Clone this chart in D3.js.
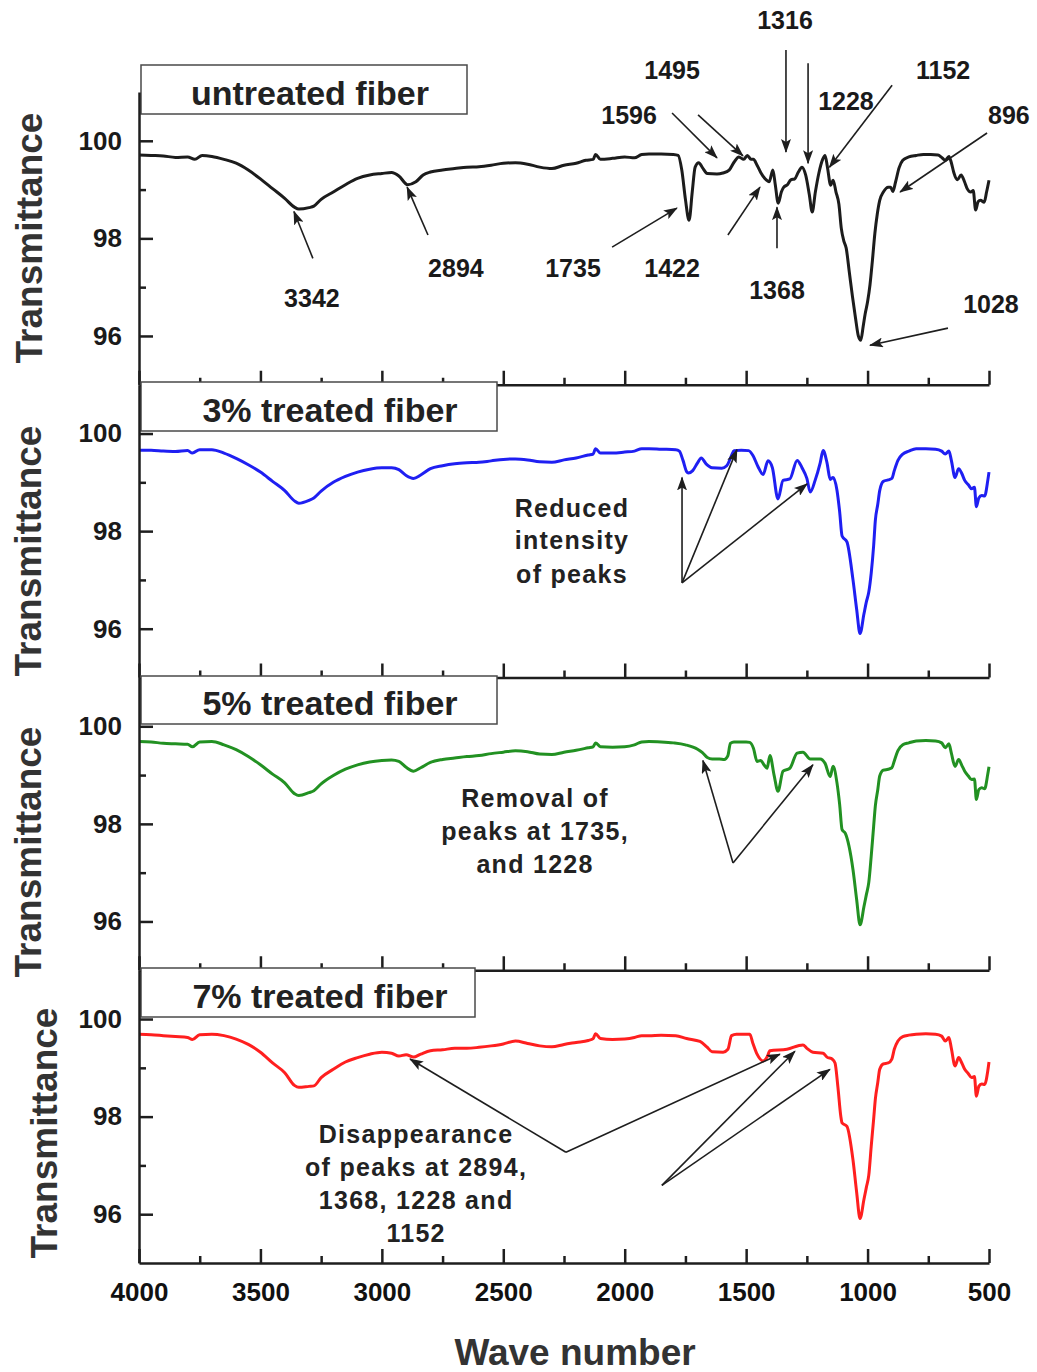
<!DOCTYPE html>
<html>
<head>
<meta charset="utf-8">
<script src="https://cdn.jsdelivr.net/npm/d3@7"></script>
<style>
  body { margin: 0; background: #fff; }
  svg { display: block; }
  text { font-family: "Liberation Sans", Arial, Helvetica, sans-serif; font-weight: bold; }
</style>
</head>
<body>
<svg id="chart" width="1037" height="1372"></svg>
<script>
// FTIR spectra: [wave number (cm-1), transmittance (%)]
const untreated = [
  [4000,99.71],[3950,99.70],[3900,99.69],[3850,99.66],[3800,99.67],[3770,99.62],[3740,99.70],[3700,99.68],
  [3650,99.62],[3600,99.54],[3550,99.40],[3500,99.22],[3450,99.02],[3400,98.82],[3360,98.64],[3342,98.60],
  [3300,98.63],[3280,98.66],[3250,98.80],[3200,98.95],[3150,99.10],[3100,99.23],[3050,99.30],[3000,99.33],
  [2960,99.35],[2930,99.28],[2894,99.10],[2860,99.16],[2830,99.30],[2800,99.36],[2750,99.40],[2700,99.43],
  [2650,99.46],[2600,99.47],[2550,99.50],[2500,99.54],[2450,99.55],[2400,99.52],[2350,99.46],[2300,99.43],
  [2250,99.50],[2200,99.54],[2160,99.60],[2130,99.62],[2120,99.72],[2100,99.62],[2050,99.64],[2000,99.67],
  [1960,99.65],[1930,99.72],[1900,99.73],[1850,99.73],[1800,99.72],[1780,99.70],[1765,99.40],[1750,98.80],
  [1735,98.37],[1722,98.95],[1710,99.46],[1695,99.55],[1680,99.45],[1660,99.33],[1620,99.32],[1596,99.34],
  [1570,99.40],[1550,99.56],[1530,99.67],[1510,99.62],[1495,99.70],[1480,99.62],[1470,99.62],[1455,99.50],
  [1440,99.35],[1422,99.22],[1405,99.16],[1390,99.40],[1380,99.10],[1368,98.72],[1355,98.95],[1345,99.05],
  [1330,99.10],[1316,99.20],[1300,99.22],[1285,99.36],[1270,99.46],[1255,99.30],[1240,98.90],[1228,98.54],
  [1215,98.95],[1200,99.35],[1185,99.62],[1175,99.70],[1165,99.45],[1152,99.09],[1142,99.19],[1130,98.95],
  [1118,98.70],[1108,98.20],[1098,97.95],[1088,97.80],[1075,97.30],[1062,96.80],[1050,96.38],[1038,96.00],
  [1028,95.91],[1018,96.20],[1010,96.45],[1000,96.70],[990,97.05],[980,97.55],[970,98.10],[960,98.50],
  [950,98.78],[935,98.95],[915,99.05],[905,99.05],[896,98.96],[885,99.15],[870,99.45],[855,99.60],
  [830,99.67],[800,99.70],[770,99.72],[740,99.72],[710,99.71],[695,99.66],[680,99.60],[665,99.68],
  [655,99.55],[645,99.35],[630,99.20],[615,99.30],[600,99.15],[590,99.02],[575,98.95],[565,98.98],
  [555,98.58],[545,98.75],[535,98.78],[520,98.74],[510,98.95],[500,99.19]
];

const treated3 = [
  [4000,99.66],[3950,99.66],[3900,99.64],[3850,99.63],[3800,99.65],[3780,99.60],[3750,99.67],[3700,99.67],
  [3650,99.60],[3600,99.49],[3550,99.36],[3500,99.21],[3450,99.02],[3400,98.83],[3360,98.62],[3342,98.57],
  [3300,98.63],[3280,98.68],[3250,98.82],[3200,99.00],[3150,99.12],[3100,99.21],[3050,99.27],[3000,99.30],
  [2960,99.30],[2930,99.26],[2900,99.14],[2870,99.08],[2840,99.15],[2800,99.28],[2750,99.34],[2700,99.38],
  [2650,99.40],[2600,99.41],[2550,99.44],[2500,99.47],[2450,99.48],[2400,99.46],[2350,99.42],[2300,99.41],
  [2250,99.46],[2200,99.50],[2150,99.56],[2130,99.58],[2120,99.69],[2100,99.60],[2050,99.60],[2000,99.62],
  [1960,99.64],[1930,99.69],[1900,99.69],[1850,99.68],[1790,99.67],[1775,99.64],[1760,99.45],[1745,99.22],
  [1738,99.19],[1720,99.24],[1700,99.40],[1685,99.50],[1665,99.38],[1640,99.30],[1600,99.29],[1580,99.34],
  [1560,99.55],[1550,99.65],[1520,99.66],[1490,99.65],[1472,99.55],[1451,99.32],[1430,99.16],[1410,99.44],
  [1392,99.30],[1369,98.66],[1348,99.04],[1320,99.07],[1290,99.45],[1270,99.30],[1250,99.08],[1236,98.80],
  [1216,99.04],[1195,99.40],[1183,99.65],[1167,99.40],[1154,99.06],[1142,99.10],[1126,98.84],[1115,98.40],
  [1105,97.90],[1085,97.78],[1060,97.00],[1045,96.40],[1031,95.90],[1015,96.30],[1005,96.55],[995,96.75],
  [985,97.14],[975,97.70],[968,98.22],[958,98.55],[950,98.83],[935,99.02],[915,99.05],[900,99.08],
  [890,99.24],[875,99.45],[855,99.58],[830,99.64],[800,99.69],[760,99.69],[720,99.68],[695,99.64],
  [680,99.58],[665,99.64],[655,99.45],[640,99.10],[625,99.28],[612,99.18],[600,99.04],[585,98.95],
  [572,98.87],[560,98.90],[552,98.50],[542,98.68],[530,98.73],[518,98.72],[505,99.04],[500,99.21]
];

const treated5 = [
  [4000,99.69],[3950,99.68],[3900,99.65],[3850,99.64],[3800,99.63],[3780,99.58],[3750,99.68],[3700,99.69],
  [3650,99.62],[3600,99.52],[3550,99.38],[3500,99.21],[3450,99.02],[3400,98.84],[3360,98.62],[3342,98.58],
  [3300,98.64],[3280,98.68],[3250,98.82],[3200,98.99],[3150,99.12],[3100,99.21],[3050,99.27],[3000,99.30],
  [2960,99.31],[2930,99.28],[2900,99.16],[2870,99.08],[2840,99.15],[2800,99.26],[2750,99.32],[2700,99.35],
  [2650,99.38],[2600,99.40],[2550,99.44],[2500,99.47],[2450,99.50],[2400,99.48],[2350,99.43],[2300,99.42],
  [2250,99.47],[2200,99.51],[2150,99.56],[2130,99.58],[2120,99.66],[2100,99.58],[2050,99.57],[2000,99.58],
  [1960,99.62],[1930,99.68],[1900,99.69],[1850,99.68],[1800,99.66],[1750,99.62],[1700,99.53],[1680,99.46],
  [1660,99.36],[1640,99.33],[1610,99.33],[1590,99.32],[1575,99.40],[1565,99.65],[1550,99.68],[1500,99.68],
  [1485,99.67],[1470,99.55],[1455,99.28],[1440,99.30],[1425,99.20],[1414,99.14],[1402,99.40],[1385,99.00],
  [1369,98.67],[1348,99.08],[1320,99.14],[1290,99.45],[1266,99.47],[1236,99.33],[1195,99.33],[1175,99.24],
  [1154,98.97],[1142,99.18],[1126,98.84],[1115,98.40],[1105,97.88],[1092,97.81],[1060,97.06],[1045,96.45],
  [1031,95.93],[1015,96.30],[1005,96.55],[995,96.80],[985,97.34],[975,97.95],[968,98.37],[958,98.70],
  [950,98.98],[935,99.10],[915,99.12],[900,99.15],[890,99.29],[875,99.50],[855,99.62],[830,99.66],
  [800,99.70],[760,99.71],[720,99.70],[695,99.66],[680,99.56],[665,99.64],[655,99.45],[640,99.18],
  [625,99.32],[612,99.20],[600,99.08],[585,98.98],[572,98.91],[560,98.92],[552,98.50],[542,98.70],
  [530,98.74],[518,98.72],[505,99.02],[500,99.17]
];

const treated7 = [
  [4000,99.69],[3950,99.68],[3900,99.66],[3850,99.64],[3800,99.62],[3780,99.58],[3750,99.68],[3700,99.69],
  [3650,99.66],[3600,99.59],[3550,99.48],[3500,99.32],[3450,99.10],[3400,98.90],[3360,98.64],[3342,98.60],
  [3300,98.62],[3280,98.63],[3250,98.80],[3200,98.97],[3150,99.12],[3100,99.21],[3050,99.28],[3000,99.32],
  [2960,99.30],[2930,99.24],[2900,99.27],[2870,99.22],[2840,99.28],[2800,99.35],[2750,99.37],[2700,99.40],
  [2650,99.40],[2600,99.42],[2550,99.45],[2500,99.49],[2450,99.55],[2400,99.50],[2350,99.45],[2300,99.43],
  [2250,99.48],[2200,99.52],[2150,99.56],[2130,99.60],[2120,99.70],[2100,99.60],[2050,99.58],[2000,99.59],
  [1960,99.62],[1930,99.66],[1900,99.66],[1850,99.67],[1790,99.66],[1745,99.60],[1690,99.54],[1662,99.43],
  [1640,99.33],[1595,99.32],[1575,99.38],[1560,99.66],[1540,99.69],[1485,99.69],[1472,99.50],[1455,99.28],
  [1430,99.14],[1414,99.22],[1402,99.35],[1332,99.38],[1266,99.47],[1250,99.40],[1225,99.32],[1183,99.30],
  [1167,99.22],[1146,99.18],[1134,99.10],[1122,98.60],[1110,98.00],[1105,97.87],[1085,97.80],[1060,97.11],
  [1045,96.45],[1031,95.91],[1015,96.30],[1005,96.55],[995,96.80],[985,97.39],[975,97.95],[968,98.36],
  [958,98.70],[950,98.97],[935,99.08],[915,99.10],[900,99.18],[890,99.38],[875,99.55],[855,99.64],
  [830,99.67],[800,99.69],[760,99.70],[720,99.69],[695,99.65],[680,99.55],[665,99.62],[655,99.40],
  [640,99.04],[625,99.21],[612,99.10],[600,98.97],[585,98.88],[572,98.80],[560,98.82],[552,98.42],
  [542,98.62],[530,98.67],[518,98.66],[505,98.94],[500,99.12]
];

const seriesData = [untreated, treated3, treated5, treated7];
const panelTitles = ["untreated fiber", "3% treated fiber", "5% treated fiber", "7% treated fiber"];
const seriesColors = ["#1c1c1c", "#1f1ff2", "#229122", "#ff1f1f"];

// Axis ticks
const xMajorTicks = [4000, 3500, 3000, 2500, 2000, 1500, 1000, 500];
const xMinorTicks = [3750, 3250, 2750, 2250, 1750, 1250, 750];
const yMajorTicks = [96, 98, 100];
const yMinorTicks = [97, 99];

// Peak assignments on the untreated spectrum: label position, arrow tail, arrow head
const peakLabels = [
  { text: "3342", at: [3288, 96.77], from: [3284, 97.59], to: [3362, 98.55] },
  { text: "2894", at: [2695, 97.39], from: [2810, 98.07], to: [2896, 99.05] },
  { text: "1735", at: [2213, 97.39], from: [2052, 97.82], to: [1785, 98.62] },
  { text: "1422", at: [1805, 97.39], from: [1575, 98.07], to: [1443, 99.05] },
  { text: "1368", at: [1373, 96.94], from: [1373, 97.80], to: [1373, 98.64] },
  { text: "1596", at: [1982, 100.53], from: [1805, 100.57], to: [1620, 99.65] },
  { text: "1495", at: [1805, 101.45], from: [1698, 100.53], to: [1513, 99.69] },
  { text: "1316", at: [1340, 102.48], from: [1336, 101.86], to: [1336, 99.77] },
  { text: "1228", at: [1089, 100.81], from: [1245, 101.59], to: [1245, 99.54] },
  { text: "1152", at: [689, 101.45], from: [899, 101.14], to: [1157, 99.46] },
  { text: "896",  at: [418, 100.53], from: [508, 100.16], to: [866, 98.95] },
  { text: "1028", at: [492, 96.65], from: [669, 96.16], to: [990, 95.81] }
];

// Notes on the treated spectra: text lines, where the text sits, arrow tails and heads
const treatmentNotes = [
  null,
  { lines: ["Reduced", "intensity", "of peaks"], wn: 2217, rows: [98.48, 97.81, 97.13],
    arrows: [ { from: [1764, 96.94], to: [1764, 99.10] },
              { from: [1764, 96.94], to: [1538, 99.67] },
              { from: [1764, 96.94], to: [1249, 98.97] } ] },
  { lines: ["Removal of", "peaks at 1735,", "and 1228"], wn: 2369, rows: [98.54, 97.86, 97.18],
    arrows: [ { from: [1554, 97.20], to: [1678, 99.30] },
              { from: [1554, 97.20], to: [1225, 99.21] } ] },
  { lines: ["Disappearance", "of peaks at 2894,", "1368, 1228 and", "1152"], wn: 2859,
    rows: [97.64, 96.96, 96.29, 95.61],
    arrows: [ { from: [2242, 97.27], to: [2884, 99.18] },
              { from: [2242, 97.27], to: [1361, 99.28] },
              { from: [1847, 96.59], to: [1299, 99.34] },
              { from: [1847, 96.59], to: [1155, 98.97] } ] }
];

// Layout
const W = 1037, H = 1372;
const plotLeft = 139, plotRight = 989, plotTop = 92, panelH = 292.75;
const yDomain = [95, 101];
const titleBoxes = [
  { x: 141, y: 65,  w: 326, h: 49, tx: 310, ty: 105 },
  { x: 141, y: 382, w: 356, h: 49, tx: 330, ty: 422 },
  { x: 141, y: 676, w: 356, h: 48, tx: 330, ty: 715 },
  { x: 141, y: 968, w: 334, h: 49, tx: 320, ty: 1008 }
];
const yTitlePos = [ [29, 238], [28, 551], [28, 852], [44, 1133] ];
const ink = "#1e1e1e";

const svg = d3.select("#chart");
svg.append("rect").attr("width", W).attr("height", H).attr("fill", "#fff");

const defs = svg.append("defs");
defs.append("marker")
  .attr("id", "arrowhead")
  .attr("viewBox", "0 0 14 10")
  .attr("refX", 13).attr("refY", 5)
  .attr("markerWidth", 14).attr("markerHeight", 10)
  .attr("markerUnits", "userSpaceOnUse")
  .attr("orient", "auto")
  .append("path")
  .attr("d", "M0,0 L14,5 L0,10 L3,5 Z")
  .attr("fill", ink);

const x = d3.scaleLinear().domain([4000, 500]).range([plotLeft, plotRight]);

seriesData.forEach((data, i) => {
  const top = plotTop + i * panelH;
  const bottom = top + panelH;
  const y = d3.scaleLinear().domain(yDomain).range([bottom, top]);
  const g = svg.append("g");

  // title box
  const tb = titleBoxes[i];
  g.append("rect")
    .attr("x", tb.x).attr("y", tb.y).attr("width", tb.w).attr("height", tb.h)
    .attr("fill", "#fff").attr("stroke", "#4a4a4a").attr("stroke-width", 1.5);
  g.append("text")
    .attr("x", tb.tx).attr("y", tb.ty)
    .attr("text-anchor", "middle")
    .attr("font-size", 34).attr("fill", "#222")
    .text(panelTitles[i]);

  // spectrum
  const line = d3.line()
    .x(d => x(d[0]))
    .y(d => y(d[1]))
    .curve(d3.curveMonotoneX);
  g.append("path")
    .datum(data)
    .attr("d", line)
    .attr("fill", "none")
    .attr("stroke", seriesColors[i])
    .attr("stroke-width", 3)
    .attr("stroke-linejoin", "round");

  // left axis
  const yAxis = g.append("g").attr("transform", `translate(${plotLeft},0)`)
    .call(d3.axisLeft(y).tickValues(yMajorTicks).tickFormat(d3.format("d"))
      .tickSize(-14).tickSizeOuter(0).tickPadding(17));
  yAxis.select(".domain").attr("stroke", ink).attr("stroke-width", 2.5);
  yAxis.selectAll(".tick line").attr("stroke", ink).attr("stroke-width", 2.5);
  yAxis.selectAll(".tick text").attr("font-size", 26).attr("fill", "#1a1a1a")
    .attr("font-family", '"Liberation Sans", Arial, sans-serif').attr("font-weight", "bold");
  const yMinor = g.append("g").attr("transform", `translate(${plotLeft},0)`)
    .call(d3.axisLeft(y).tickValues(yMinorTicks).tickSize(-7).tickFormat(""));
  yMinor.select(".domain").remove();
  yMinor.selectAll(".tick line").attr("stroke", ink).attr("stroke-width", 2.5);

  // bottom axis
  const xAxis = g.append("g").attr("transform", `translate(0,${bottom})`)
    .call(d3.axisBottom(x).tickValues(xMajorTicks).tickSize(-14).tickSizeOuter(0).tickPadding(20)
      .tickFormat(i === 3 ? d3.format("d") : ""));
  xAxis.select(".domain").attr("stroke", ink).attr("stroke-width", 2.5);
  xAxis.selectAll(".tick line").attr("stroke", ink).attr("stroke-width", 2.5);
  xAxis.selectAll(".tick text").attr("font-size", 26).attr("fill", "#111")
    .attr("font-family", '"Liberation Sans", Arial, sans-serif').attr("font-weight", "bold");
  const xMinor = g.append("g").attr("transform", `translate(0,${bottom})`)
    .call(d3.axisBottom(x).tickValues(xMinorTicks).tickSize(-7).tickFormat(""));
  xMinor.select(".domain").remove();
  xMinor.selectAll(".tick line").attr("stroke", ink).attr("stroke-width", 2.5);

  // y title
  const [yx, yy] = yTitlePos[i];
  g.append("text")
    .attr("transform", `translate(${yx},${yy}) rotate(-90)`)
    .attr("text-anchor", "middle").attr("dy", "0.36em")
    .attr("font-size", 37).attr("fill", "#333")
    .text("Transmittance");

  // annotations
  const drawArrow = (from, to) => {
    g.append("line")
      .attr("x1", x(from[0])).attr("y1", y(from[1]))
      .attr("x2", x(to[0])).attr("y2", y(to[1]))
      .attr("stroke", ink).attr("stroke-width", 1.6)
      .attr("marker-end", "url(#arrowhead)");
  };

  if (i === 0) {
    peakLabels.forEach(p => {
      drawArrow(p.from, p.to);
      g.append("text")
        .attr("x", x(p.at[0])).attr("y", y(p.at[1]))
        .attr("dy", "0.36em").attr("text-anchor", "middle")
        .attr("font-size", 25).attr("fill", "#1a1a1a")
        .text(p.text);
    });
  } else {
    const note = treatmentNotes[i];
    note.arrows.forEach(a => drawArrow(a.from, a.to));
    note.lines.forEach((t, k) => {
      g.append("text")
        .attr("x", x(note.wn)).attr("y", y(note.rows[k]))
        .attr("dy", "0.36em").attr("text-anchor", "middle")
        .attr("font-size", 25).attr("letter-spacing", 1.3).attr("fill", "#222")
        .text(t);
    });
  }
});

// x title
svg.append("text")
  .attr("x", 575).attr("y", 1365)
  .attr("text-anchor", "middle")
  .attr("font-size", 37).attr("fill", "#333")
  .text("Wave number");
</script>
</body>
</html>
